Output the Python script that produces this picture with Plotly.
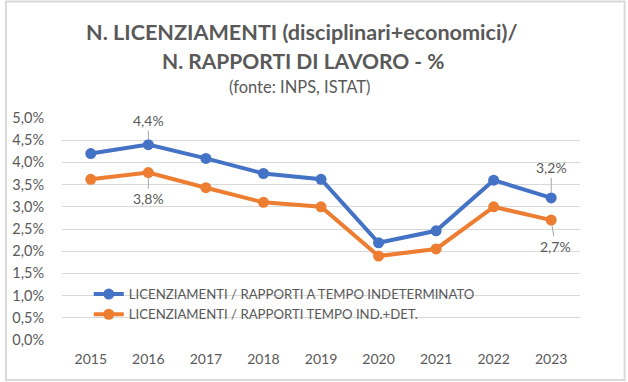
import plotly.graph_objects as go

years = ["2015", "2016", "2017", "2018", "2019", "2020", "2021", "2022", "2023"]
indeterminato = [4.20, 4.40, 4.09, 3.75, 3.62, 2.19, 2.46, 3.60, 3.20]
ind_det = [3.62, 3.77, 3.43, 3.10, 3.00, 1.89, 2.05, 3.00, 2.70]
name_ind = "LICENZIAMENTI / RAPPORTI A TEMPO INDETERMINATO"
name_det = "LICENZIAMENTI / RAPPORTI TEMPO IND.+DET."
y_ticks = [0, 0.5, 1.0, 1.5, 2.0, 2.5, 3.0, 3.5, 4.0, 4.5, 5.0]

BLUE = "#4472C4"
ORANGE = "#ED7D31"
TXT = "#595959"
FONT = "Lato"


def fmt(v):
    return f"{v:.1f}".replace(".", ",") + "%"


fig = go.Figure()
fig.add_trace(go.Scatter(x=years, y=indeterminato, name=name_ind, mode="lines+markers",
                         line=dict(color=BLUE, width=4), marker=dict(size=11, color=BLUE)))
fig.add_trace(go.Scatter(x=years, y=ind_det, name=name_det, mode="lines+markers",
                         line=dict(color=ORANGE, width=4), marker=dict(size=11, color=ORANGE)))

# (category index, value, ax, ay)
labels = [
    (1, indeterminato[1], 0, -24),
    (1, ind_det[1], 0, 26),
    (8, indeterminato[8], 0, -30),
    (8, ind_det[8], 4, 26),
]
for xi, yv, ax, ay in labels:
    fig.add_annotation(x=xi, y=yv, xref="x", yref="y", text=fmt(yv), showarrow=True,
                       arrowhead=0, arrowwidth=1, arrowcolor="#a6a6a6", ax=ax, ay=ay,
                       standoff=5, font=dict(family=FONT, size=14, color=TXT))

L, R, T, B = 58, 48, 118, 42
W, H = 628, 382
pw, ph = W - L - R, H - T - B


def px(x):
    return (x - L) / pw


def py(y):
    return (H - B - y) / ph


fig.add_annotation(x=px(299), y=py(32), xref="paper", yref="paper", showarrow=False,
                   text="<b>N. LICENZIAMENTI (disciplinari+economici)/</b>",
                   font=dict(family=FONT, size=21.6, color=TXT), xanchor="center", yanchor="middle")
fig.add_annotation(x=px(301), y=py(61), xref="paper", yref="paper", showarrow=False,
                   text="<b>N. RAPPORTI DI LAVORO - %</b>",
                   font=dict(family=FONT, size=21, color=TXT), xanchor="center", yanchor="middle")
fig.add_annotation(x=px(297), y=py(87), xref="paper", yref="paper", showarrow=False,
                   text="(fonte: INPS, ISTAT)",
                   font=dict(family=FONT, size=16.5, color=TXT), xanchor="center", yanchor="middle")

fig.add_shape(type="rect", xref="paper", yref="paper", x0=px(1.5), x1=px(625), y0=py(380), y1=py(1.5),
              line=dict(color="#d9d9d9", width=2), fillcolor="rgba(0,0,0,0)", layer="below")

fig.update_layout(
    width=W, height=H,
    margin=dict(l=L, r=R, t=T, b=B),
    paper_bgcolor="white", plot_bgcolor="white",
    showlegend=True,
    legend=dict(x=px(85), y=py(279), xanchor="left", yanchor="top",
                bgcolor="rgba(0,0,0,0)", font=dict(family=FONT, size=13.2, color=TXT),
                tracegroupgap=0, itemwidth=30),
    font=dict(family=FONT, color=TXT),
)
fig.update_xaxes(type="category", categoryorder="array", categoryarray=years,
                 range=[-0.5, len(years) - 0.5], autorange=False,
                 showgrid=False, showline=False, zeroline=False, ticks="outside", ticklen=6,
                 tickcolor="rgba(0,0,0,0)", tickfont=dict(family=FONT, size=14, color=TXT),
                 fixedrange=True)
fig.update_yaxes(range=[0, 5.0], autorange=False, tickmode="array", tickvals=y_ticks,
                 ticktext=[fmt(v) for v in y_ticks],
                 showgrid=True, gridcolor="#d9d9d9", gridwidth=1, zeroline=False, showline=False,
                 ticks="outside", ticklen=14, tickcolor="rgba(0,0,0,0)",
                 tickfont=dict(family=FONT, size=14.5, color=TXT), fixedrange=True)

fig.write_html("out.html", config={"displayModeBar": False},
               post_script="document.body.style.margin='0';")
